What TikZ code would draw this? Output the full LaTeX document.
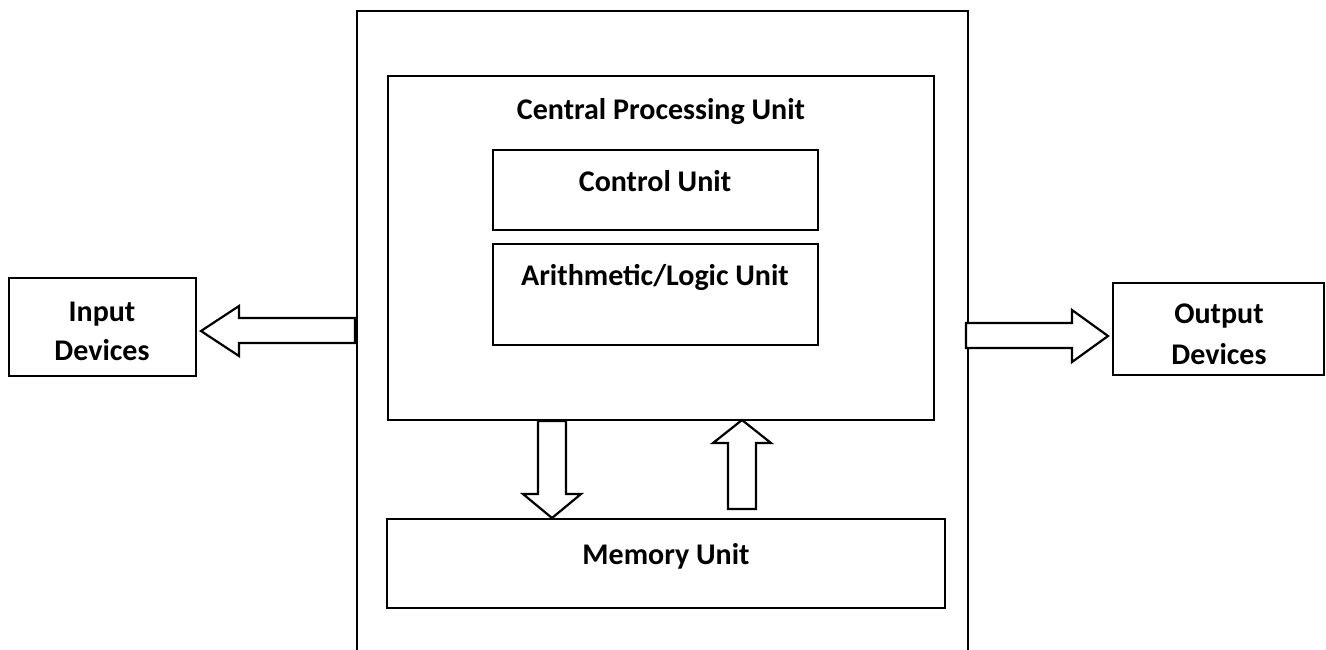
\documentclass[tikz,border=0pt]{standalone}
\usepackage{fontspec}
\setmainfont{Carlito}
\usetikzlibrary{fit}
\begin{document}
\begin{tikzpicture}[x=0.5pt,y=-0.5pt,
  box/.style={draw,line width=1.1pt,inner sep=0pt,fill=white},
  lbl/.style={anchor=base,inner sep=0pt,font=\fontsize{15}{18}\selectfont\bfseries},
  blockarrow/.style={draw,line width=1.1pt,fill=white,line join=miter}]
\useasboundingbox (0,0) rectangle (1326,649);
% outer frame (open at the bottom)
\coordinate (obl) at (357,652);
\coordinate (otl) at (357,11);
\coordinate (otr) at (968,11);
\coordinate (obr) at (968,652);
\draw[line width=1.1pt] (obl) -- (otl) -- (otr) -- (obr);
% boxes
\node[box,fit={(388,76) (934,420)}] (cpu) {};
\node[box,fit={(493,150) (818,230)}] (cu) {};
\node[box,fit={(493,244) (818,345)}] (alu) {};
\node[box,fit={(387,519) (945,608)}] (mem) {};
\node[box,fit={(9,278) (196,376)}] (inp) {};
\node[box,fit={(1113,283) (1324,375)}] (out) {};
% labels
\node[lbl] (cpuT) at (661,119) {Central Processing Unit};
\node[lbl] (cuT) at (655,191) {Control Unit};
\node[lbl] (aluT) at (655,285) {Arithmetic/Logic Unit};
\node[lbl] (memT) at (666,564) {Memory Unit};
\node[lbl] (inT1) at (102,321) {Input};
\node[lbl] (inT2) at (102,360) {Devices};
\node[lbl] (outT1) at (1219,323) {Output};
\node[lbl] (outT2) at (1219,364) {Devices};
% block arrows
\draw[blockarrow] (355,318) -- (239,318) -- (239,306) -- (201,331) -- (239,356) -- (239,343) -- (355,343) -- cycle;
\draw[blockarrow] (966,323) -- (1072,323) -- (1072,310) -- (1108,336) -- (1072,362) -- (1072,348) -- (966,348) -- cycle;
\draw[blockarrow] (538,421) -- (538,494) -- (523,494) -- (552,518) -- (581,494) -- (566,494) -- (566,421) -- cycle;
\draw[blockarrow] (728,509) -- (728,443) -- (713,443) -- (742,420) -- (771,443) -- (756,443) -- (756,509) -- cycle;
\end{tikzpicture}
\end{document}
